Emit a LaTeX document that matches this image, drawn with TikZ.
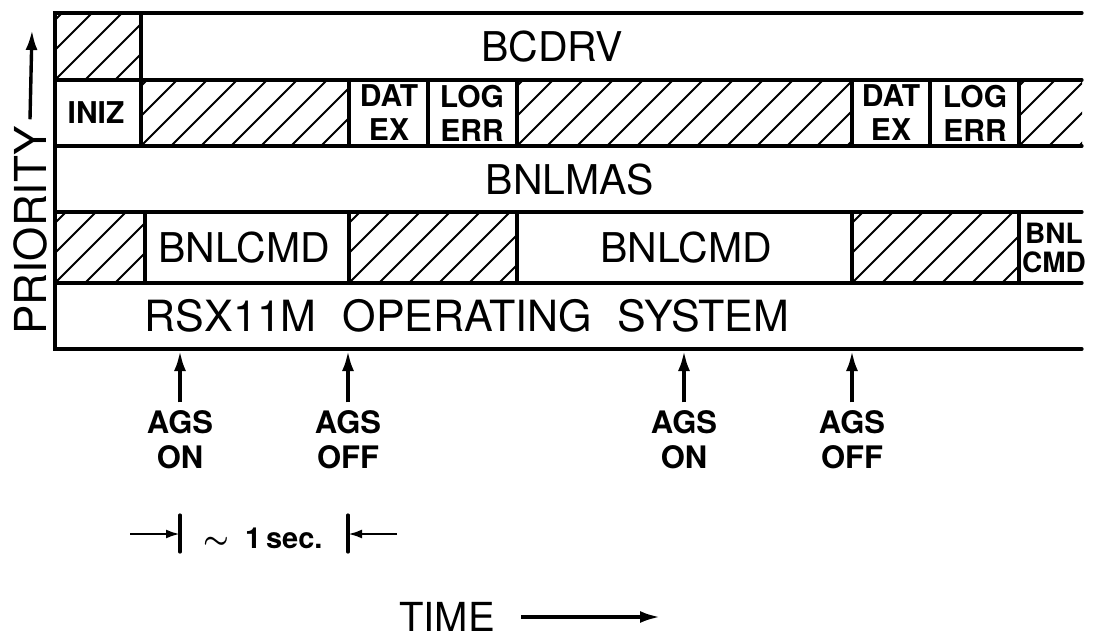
\documentclass[tikz,border=0pt]{standalone}
\usepackage{amsmath}
\usepackage{fontspec}
\setmainfont{TeX Gyre Heros}
\usepackage{tikz}
\usetikzlibrary{positioning}
\usetikzlibrary{arrows.meta}

% hatched cell: x1, y1, x2, y2 (pixel units, y down)
\newcommand{\hatchcell}[4]{%
  \begin{scope}
    \clip (#1,#2) rectangle (#3,#4);
    \foreach \s in {0,...,15}
      \draw[hatchline] (#1-90+30*\s,#4) -- ++(100,-100);
  \end{scope}}

\begin{document}
\begin{tikzpicture}[
  x=0.5pt, y=-0.5pt,
  frame/.style={line width=1.6pt, line cap=round},
  hatchline/.style={line width=1pt},
  bigtext/.style={font=\fontsize{20.5}{24}\selectfont, inner sep=0pt},
  smalltext/.style={font=\fontsize{15}{17}\selectfont\bfseries, align=center, inner sep=0pt},
  marker/.style={-{Latex[length=10pt,width=6pt]}, line width=1.7pt},
  dimarrow/.style={-{Latex[length=7pt,width=4.5pt]}, line width=1.3pt}
]
\useasboundingbox (0,0) rectangle (1094,639);

\hatchcell{55}{13}{141}{80}
\hatchcell{141}{80}{349}{146}
\hatchcell{517}{80}{852}{146}
\hatchcell{1019}{80}{1082}{146}
\hatchcell{55}{212}{145}{283}
\hatchcell{349}{212}{517}{283}
\hatchcell{852}{212}{1019}{283}

\draw[frame] (1082,13) -- (55,13) -- (55,349) -- (1082,349);
\foreach \y in {80,146,212,283}
  \draw[frame] (55,\y) -- (1082,\y);
\draw[frame] (141,13) -- (141,80);
\foreach \x in {141,349,428,517,852,930,1019}
  \draw[frame] (\x,80) -- (\x,146);
\foreach \x in {145,349,517,852,1019}
  \draw[frame] (\x,212) -- (\x,283);

\node[bigtext] (bcdrv) at (552,47) {BCDRV};
\node[smalltext] (iniz) at (96,113) {INIZ};
\node[smalltext] (datA) at (389,113) {DAT\\EX};
\node[smalltext] (logA) at (472,113) {LOG\\ERR};
\node[smalltext] (datB) at (891,113) {DAT\\EX};
\node[smalltext] (logB) at (975,113) {LOG\\ERR};
\node[bigtext] (bnlmas) at (570,180) {BNLMAS};
\node[bigtext] (cmdA) at (244,248) {BNLCMD};
\node[bigtext] (cmdB) at (686,248) {BNLCMD};
\node[smalltext, font=\fontsize{14}{14.5}\selectfont\bfseries] (cmdC) at (1054,248) {BNL\\CMD};
\node[bigtext, font=\fontsize{21.5}{24}\selectfont] (rsx) at (467,316) {RSX11M\hspace{0.6em}OPERATING\hspace{0.6em}SYSTEM};

\node[bigtext, font=\fontsize{22}{24}\selectfont, rotate=90] (prio) at (30,230) {PRIORITY};
\coordinate (prioTip) at (32,30);
\draw[marker] ([yshift=3pt]prio.east) -- (prioTip);

\foreach \name/\x/\txt in {agsA/180/ON, agsB/348/OFF, agsC/684/ON, agsD/852/OFF} {
  \node[smalltext, font=\fontsize{15.5}{17.5}\selectfont\bfseries] (\name) at (\x,440) {AGS\\\txt};
  \coordinate (\name tip) at (\x,351);
  \draw[marker] ([yshift=4pt]\name.north) -- (\name tip);
}

\node[inner sep=0pt, font=\fontsize{14.5}{16}\selectfont\bfseries] (onesec) at (263,538) {$\boldsymbol{\sim}$\hspace{8pt}1\,sec.};
\draw[frame] (180,515) -- (180,552);
\draw[frame] (348,515) -- (348,552);
\coordinate (barL) at (180,534);
\coordinate (barR) at (348,534);
\coordinate (leftTail) at (130,534);
\coordinate (rightTail) at (397,534);
\draw[dimarrow] (leftTail) -- (barL);
\draw[dimarrow] (rightTail) -- (barR);

\node[bigtext, font=\fontsize{20}{22}\selectfont] (time) at (447,617) {TIME};
\coordinate (timeTip) at (660,617);
\draw[marker] ([xshift=13pt]time.east) -- (timeTip);

\end{tikzpicture}
\end{document}
